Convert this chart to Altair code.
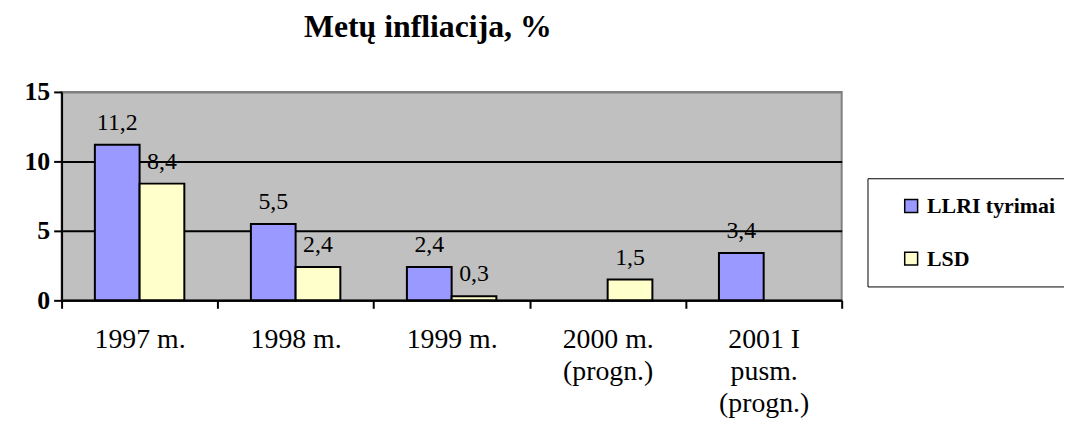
import altair as alt
import pandas as pd

categories = ["1997 m.", "1998 m.", "1999 m.", "2000 m.\n(progn.)", "2001 I\npusm.\n(progn.)"]
series_names = ["LLRI tyrimai", "LSD"]
llri_values = [11.2, 5.5, 2.4, None, 3.4]
lsd_values = [8.4, 2.4, 0.3, 1.5, None]
y_ticks = [0, 5, 10, 15]

rows = []
for cat, a, b in zip(categories, llri_values, lsd_values):
    if a is not None:
        rows.append({"cat": cat, "series": series_names[0], "value": a})
    if b is not None:
        rows.append({"cat": cat, "series": series_names[1], "value": b})
df = pd.DataFrame(rows)
df["label"] = df["value"].map(lambda v: f"{v:.1f}".replace(".", ","))

FONT = "'Liberation Serif', 'Times New Roman', Times, serif"

x = alt.X("cat:N", sort=categories, title=None,
          scale=alt.Scale(paddingInner=0, paddingOuter=0),
          axis=alt.Axis(labelExpr="split(datum.label, '\\n')", labelAngle=0,
                        labelFont=FONT, labelFontSize=28, labelColor="black",
                        labelPadding=18, labelLineHeight=32,
                        tickBand="extent", tickSize=8, tickWidth=2, tickColor="black",
                        domainColor="black", domainWidth=2, grid=False))
xoff = alt.XOffset("series:N", sort=series_names,
                   scale=alt.Scale(domain=series_names, paddingInner=0, paddingOuter=0.744))
y = alt.Y("value:Q", title=None,
          scale=alt.Scale(domain=[0, 15], nice=False),
          axis=alt.Axis(values=y_ticks, labelFont=FONT, labelFontSize=26, labelFontWeight="bold",
                        labelColor="black", labelPadding=4,
                        tickSize=8, tickWidth=2, tickColor="black",
                        domainColor="black", domainWidth=2,
                        gridColor={"condition": {"test": "datum.value === 15", "value": "#808080"},
                                   "value": "black"},
                        gridWidth=2))

bars = alt.Chart(df).mark_bar(stroke="black", strokeWidth=2).encode(
    x=x, xOffset=xoff, y=y,
    color=alt.Color("series:N", sort=series_names, title=None,
                    scale=alt.Scale(domain=series_names, range=["#9999FF", "#FFFFCC"]),
                    legend=alt.Legend(orient="none", legendX=812, legendY=87,
                                      symbolType="square", symbolSize=169,
                                      symbolStrokeColor="black", symbolStrokeWidth=1.5,
                                      symbolOffset=16,
                                      labelFont=FONT, labelFontSize=22, labelFontWeight="bold",
                                      labelColor="black", labelOffset=5,
                                      rowPadding=31, padding=17,
                                      strokeColor="black", fillColor="white")),
)

labels = alt.Chart(df).mark_text(font=FONT, fontSize=24, color="black",
                                 baseline="alphabetic", dy=-15).encode(
    x=x, xOffset=xoff, y=y, text="label:N")

chart = alt.layer(bars, labels).properties(
    width=786, height=210,
    autosize=alt.AutoSizeParams(type="none"),
    padding={"left": 54, "top": 83, "right": 224, "bottom": 118},
    title=alt.Title("Metų infliacija, %", font=FONT, fontSize=32, fontWeight="bold",
                    color="black", anchor="middle", frame="group", dx=-24,
                    offset=35),
).configure_view(fill="#C0C0C0", stroke="#808080", strokeWidth=2)

chart.save("out.html", embed_options={"renderer": "svg", "actions": False})
